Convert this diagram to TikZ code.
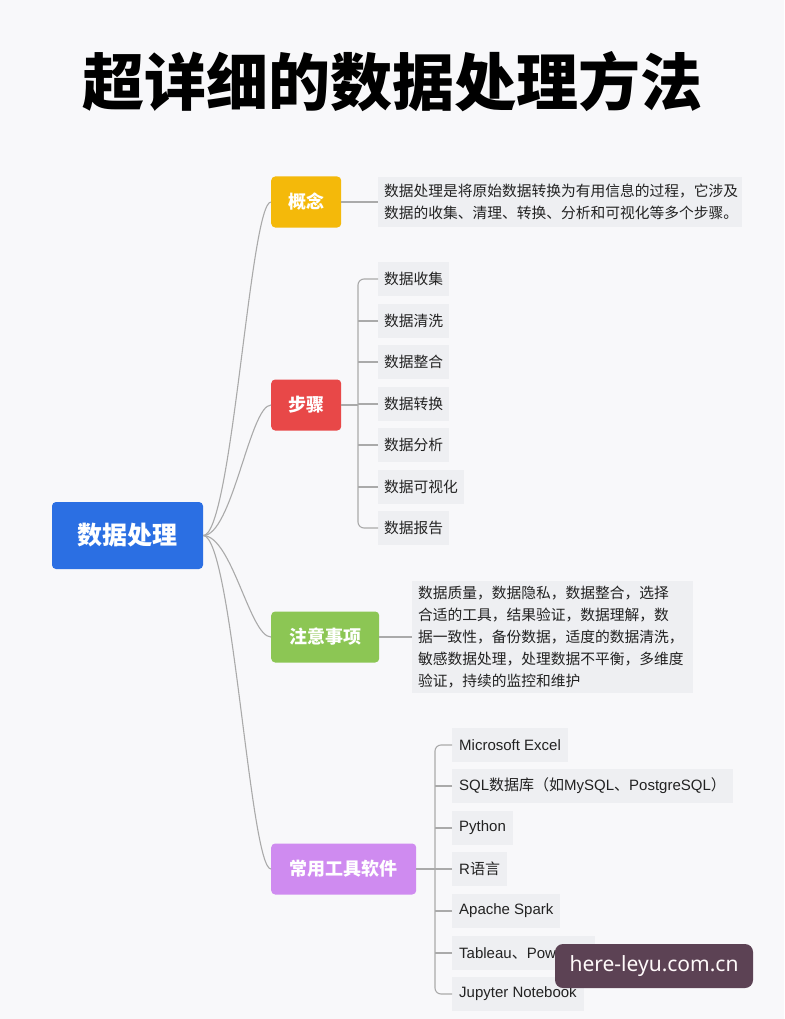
\documentclass[tikz,border=0pt]{standalone}
\usepackage{fontspec}
\setmainfont{Liberation Sans}
\newfontfamily\cjk{Noto Sans CJK SC}
\newfontfamily\wmfont{Noto Sans}
\definecolor{pagebg}{HTML}{F8F8FA}
\definecolor{itembg}{HTML}{EEEFF2}
\definecolor{linegray}{HTML}{AAAAAA}
\definecolor{textdark}{HTML}{222222}
\definecolor{rootblue}{HTML}{2B6FE3}
\definecolor{cyellow}{HTML}{F4B90A}
\definecolor{cred}{HTML}{E84848}
\definecolor{cgreen}{HTML}{8CC654}
\definecolor{cpurple}{HTML}{CF8BF0}
\definecolor{wmbg}{HTML}{5C4254}
\tikzset{
  conn/.style={draw=linegray, line width=1.1pt},
  branchbox/.style={rounded corners=4pt, text=white, anchor=west,
    font=\cjk\bfseries\fontsize{18}{22}\selectfont, minimum height=51pt, inner sep=0pt},
  itembox/.style={fill=itembg, anchor=west, minimum height=34pt, inner xsep=7pt,
    font=\fontsize{15}{18}\selectfont, text=textdark},
  stepbox/.style={itembox, inner xsep=6pt, font=\cjk\fontsize{14.75}{18}\selectfont},
  notebox/.style={fill=itembg, anchor=west, align=left, inner xsep=6pt, inner ysep=4pt,
    font=\cjk\fontsize{14.75}{22}\selectfont, text=textdark}
}
\begin{document}
\begin{tikzpicture}[x=1pt,y=-1pt]
\useasboundingbox[fill=pagebg] (0,0) rectangle (784,1019);

% title
\node[font=\cjk\bfseries\fontsize{62}{62}\selectfont, text=black] (title) at (392,82) {超详细的数据处理方法};

% root
\node[fill=rootblue, rounded corners=4pt, text=white, font=\cjk\bfseries\fontsize{25}{28}\selectfont,
  minimum width=151pt, minimum height=67pt, inner sep=0pt] (root) at (127.5,535.5) {数据处理};

% branches
\node[branchbox, fill=cyellow, minimum width=70pt] (b1) at (271,202) {概念};
\node[branchbox, fill=cred, minimum width=70pt] (b2) at (271,405) {步骤};
\node[branchbox, fill=cgreen, minimum width=108pt] (b3) at (271,637) {注意事项};
\node[branchbox, fill=cpurple, minimum width=145pt] (b4) at (271,869) {常用工具软件};

% root connectors
\draw[conn] (root.east) .. controls (232,536) and (250,202) .. (b1.west);
\draw[conn] (root.east) .. controls (232,536) and (250,405) .. (b2.west);
\draw[conn] (root.east) .. controls (232,536) and (250,637) .. (b3.west);
\draw[conn] (root.east) .. controls (232,536) and (250,869) .. (b4.west);

% concept note
\node[notebox, text width=352pt, minimum height=49pt] (n1) at (378,202)
  {数据处理是将原始数据转换为有用信息的过程，它涉及\\数据的收集、清理、转换、分析和可视化等多个步骤。};
\draw[conn] (b1.east) -- (n1.west);

% steps
\node[stepbox] (s1) at (378,279) {数据收集};
\node[stepbox] (s2) at (378,321) {数据清洗};
\node[stepbox] (s3) at (378,362) {数据整合};
\node[stepbox] (s4) at (378,404) {数据转换};
\node[stepbox] (s5) at (378,445) {数据分析};
\node[stepbox] (s6) at (378,487) {数据可视化};
\node[stepbox] (s7) at (378,528) {数据报告};
\coordinate (sx) at (358,405);
\draw[conn] (b2.east) -- (sx);
\draw[conn, rounded corners=6pt] (s1.west) -| (sx) |- (s7.west);
\foreach \i in {2,...,6} \draw[conn] (s\i.west) -- (s\i.west -| sx);

% notes
\node[notebox, text width=269pt, minimum height=112pt] (n3) at (412,637)
  {数据质量，数据隐私，数据整合，选择\\合适的工具，结果验证，数据理解，数\\据一致性，备份数据，适度的数据清洗，\\敏感数据处理，处理数据不平衡，多维度\\验证，持续的监控和维护};
\draw[conn] (b3.east) -- (n3.west);

% tools
\node[itembox] (t1) at (452,745) {Microsoft Excel};
\node[itembox] (t2) at (452,786) {SQL{\cjk 数据库（如}MySQL{\cjk 、}PostgreSQL{\cjk ）}};
\node[itembox] (t3) at (452,828) {Python};
\node[itembox] (t4) at (452,869) {R{\cjk 语言}};
\node[itembox] (t5) at (452,911) {Apache Spark};
\node[itembox] (t6) at (452,953) {Tableau{\cjk 、}Power BI};
\node[itembox] (t7) at (452,994) {Jupyter Notebook};
\coordinate (tx) at (435,869);
\draw[conn] (b4.east) -- (tx);
\draw[conn, rounded corners=6pt] (t1.west) -| (tx) |- (t7.west);
\foreach \i in {2,...,6} \draw[conn] (t\i.west) -- (t\i.west -| tx);

% watermark
\node[fill=wmbg, rounded corners=8pt, text=white!92!pink, font=\wmfont\fontsize{21}{24}\selectfont,
  minimum width=198pt, minimum height=44pt, inner sep=0pt] (wm) at (654,966) {here-leyu.com.cn};
\end{tikzpicture}
\end{document}
